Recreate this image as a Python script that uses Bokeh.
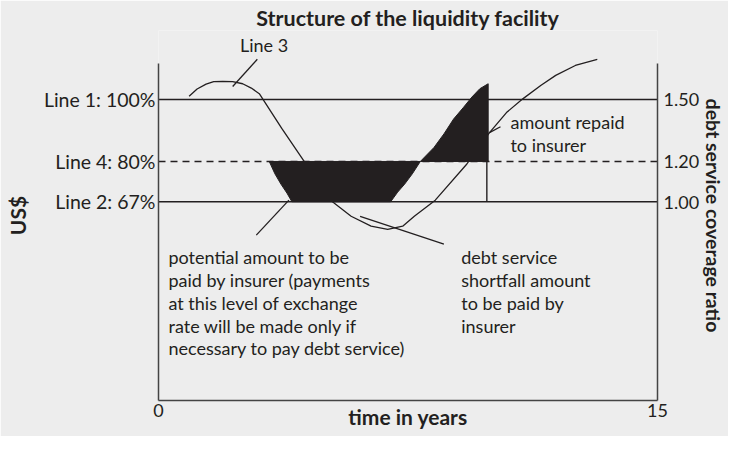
from bokeh.plotting import figure
from bokeh.models import Range1d, LinearAxis, FixedTicker, Span, NumeralTickFormatter
from bokeh.core.properties import value
from bokeh.embed import file_html
from bokeh.resources import INLINE

# ---------------- data ----------------
year_ticks = [0, 15]
level_pct = [100, 80, 67]
level_names = ["Line 1: 100%", "Line 4: 80%", "Line 2: 67%"]
level_dash = ["solid", "7 5", "solid"]
ratio_ticks = [1.0, 1.2, 1.5]
ratio_per_pct = 1.5 / 100

# Line 3 (thin curve)
line3_year = [0.92, 1.16, 1.43, 1.66, 1.93, 2.23, 2.53, 2.79, 3.03, 3.71, 4.43,
              5.20, 5.79, 6.39, 6.89, 7.34, 7.69, 8.32, 9.27, 9.95, 10.46,
              10.96, 11.50, 11.94, 12.53, 13.19]
line3_pct = [101.1, 103.4, 105.0, 105.8, 105.9, 105.8, 105.1, 103.7, 101.9, 90.6, 79.2,
             67.2, 62.3, 59.1, 58.1, 59.1, 62.3, 67.5, 79.2, 89.3, 95.8,
             100.3, 104.6, 107.8, 111.0, 113.0]
arrow_barb_year = [9.95, 10.28]
arrow_barb_pct = [89.3, 91.2]

# potential amount paid by insurer (between Line 4 and Line 2)
paid_year = [3.33, 3.50, 3.68, 3.86, 4.01, 6.98, 7.19, 7.40, 7.63, 7.87]
paid_pct = [80, 76.0, 72.7, 69.8, 67, 67, 70.1, 72.7, 76.0, 80]

# amount repaid to insurer (above Line 4)
repaid_year = [7.87, 8.28, 8.58, 8.87, 9.17, 9.42, 9.66, 9.91, 9.91]
repaid_pct = [80, 84.5, 88.9, 93.7, 97.5, 100.8, 103.5, 105.1, 80]
repaid_drop_year = 9.87

# leader lines: (x0, y0, x1, y1)
leader_x0 = [2.97, 3.92, 6.06]
leader_y0 = [113.0, 67.5, 62.3]
leader_x1 = [2.23, 2.94, 8.58]
leader_y1 = [104.2, 56.2, 53.3]

notes = ["Line 3",
         "potential amount to be\npaid by insurer (payments\nat this level of exchange\nrate will be made only if\nnecessary to pay debt service)",
         "debt service\nshortfall amount\nto be paid by\ninsurer",
         "amount repaid\nto insurer"]
note_x = [2.45, 0.3, 9.1, 10.58]
note_y = [117.5, 34.4, 38.1, 89.0]

# ---------------- style ----------------
INK = "#231f20"
AXIS = "#444444"
BG = "#ededed"
FONT = "Lato"

Y_BOTTOM = 2.8
Y_TOP = 122.3
AXIS_TOP = 111.6

p = figure(width=728, height=436, output_backend="svg", toolbar_location=None,
           x_range=Range1d(0, 15), y_range=Range1d(Y_BOTTOM, Y_TOP),
           min_border_left=158, min_border_right=60, min_border_top=30,
           min_border_bottom=36,
           title="Structure of the liquidity facility",
           background_fill_color=BG, border_fill_color=BG, outline_line_color=None)
p.grid.visible = False

p.title.align = "center"
p.title.text_font = FONT
p.title.text_font_size = "21.5px"
p.title.text_font_style = "bold"
p.title.text_color = INK
p.title.standoff = 0

p.extra_y_ranges = {"ratio": Range1d(Y_BOTTOM * ratio_per_pct, Y_TOP * ratio_per_pct)}

def style_axis(ax, tick_size="18px", label_size="20px"):
    ax.axis_line_color = AXIS
    ax.axis_line_width = 1.5
    ax.major_tick_line_color = None
    ax.minor_tick_line_color = None
    ax.major_tick_out = 0
    ax.major_tick_in = 0
    ax.major_label_text_font = FONT
    ax.major_label_text_font_size = tick_size
    ax.major_label_text_color = INK
    ax.axis_label_text_font = FONT
    ax.axis_label_text_font_size = label_size
    ax.axis_label_text_font_style = "bold"
    ax.axis_label_text_color = INK

xa = p.xaxis[0]
style_axis(xa, "18px", "21px")
xa.ticker = FixedTicker(ticks=year_ticks)
xa.axis_label = "time in years"
xa.major_label_standoff = 3
xa.axis_label_standoff = -16

ya = p.yaxis[0]
style_axis(ya, "19.5px", "21px")
ya.ticker = FixedTicker(ticks=level_pct)
ya.major_label_overrides = {v: n for v, n in zip(level_pct, level_names)}
ya.bounds = (Y_BOTTOM, AXIS_TOP)
ya.axis_label = "US$"
ya.major_label_standoff = 3
ya.axis_label_standoff = 11

ra = LinearAxis(y_range_name="ratio", ticker=FixedTicker(ticks=ratio_ticks),
                formatter=NumeralTickFormatter(format="0.00"),
                axis_label="debt service coverage ratio")
style_axis(ra, "18px", "19.5px")
ra.bounds = (Y_BOTTOM * ratio_per_pct, AXIS_TOP * ratio_per_pct)
ra.major_label_standoff = 6
ra.axis_label_standoff = 0
p.add_layout(ra, "right")

for lv, dash in zip(level_pct, level_dash):
    p.add_layout(Span(location=lv, dimension="width", line_color=INK,
                      line_width=1.4, line_dash=dash, level="underlay"))

p.line(line3_year, line3_pct, line_color=INK, line_width=1.3)
p.line(arrow_barb_year, arrow_barb_pct, line_color=INK, line_width=1.3)

p.patch(paid_year, paid_pct, fill_color=INK, line_color=INK, line_width=1)
p.patch(repaid_year, repaid_pct, fill_color=INK, line_color=INK, line_width=1)
p.segment(x0=[repaid_drop_year], y0=[level_pct[1]], x1=[repaid_drop_year], y1=[level_pct[2]],
          line_color=INK, line_width=1.4)

p.segment(x0=leader_x0, y0=leader_y0, x1=leader_x1, y1=leader_y1,
          line_color=INK, line_width=1.3)

p.text(x=note_x, y=note_y, text=notes, text_font=value(FONT),
       text_font_size="18px", text_color=INK, text_align="left",
       text_baseline="middle", text_line_height=1.04)

open("out.html", "w").write(file_html(p, INLINE))
